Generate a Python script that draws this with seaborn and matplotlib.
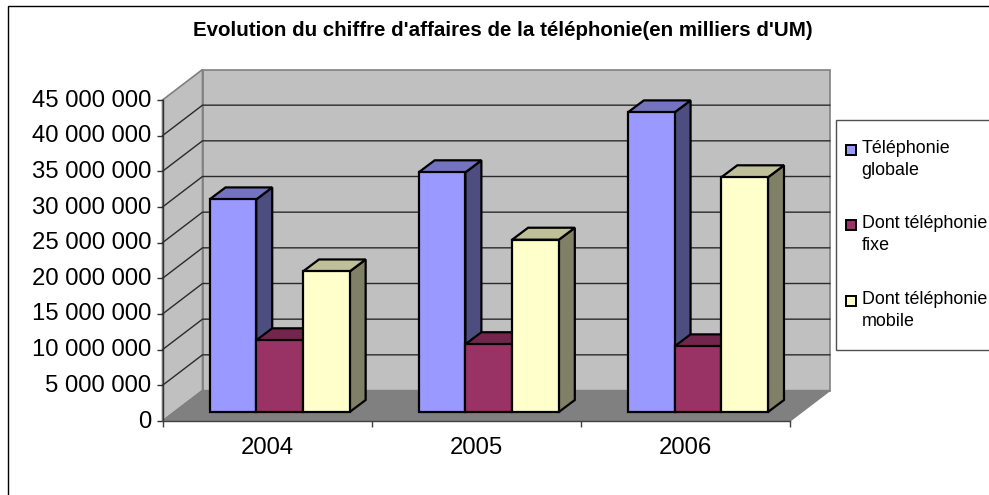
import matplotlib
matplotlib.use("Agg")
import matplotlib.pyplot as plt
import pandas as pd
import seaborn as sns
from matplotlib.colors import to_rgb
from matplotlib.patches import Polygon, Rectangle
from matplotlib.transforms import Affine2D

# Chart values
years = ["2004", "2005", "2006"]
globale = [29800000, 33600000, 42000000]
fixe = [10050000, 9500000, 9200000]
mobile = [19700000, 24150000, 32900000]
series_names = ["Téléphonie\nglobale", "Dont téléphonie\nfixe", "Dont téléphonie\nmobile"]
bar_colors = ["#9999FF", "#993366", "#FFFFCC"]
y_ticks = [0, 5000000, 10000000, 15000000, 20000000, 25000000, 30000000, 35000000, 40000000, 45000000]
y_labels = ["0", "5 000 000", "10 000 000", "15 000 000", "20 000 000", "25 000 000",
            "30 000 000", "35 000 000", "40 000 000", "45 000 000"]
title = "Evolution du chiffre d'affaires de la téléphonie(en milliers d'UM)"

W, H = 989, 495
# offsets of the fake 3D, in pixels
wall_dx, wall_dy = 40, 30.5
base_dx, base_dy = 12.5, 9
depth_dx, depth_dy = 16, 12

sns.set_theme(style="white")
plt.rcParams["font.family"] = ["Liberation Sans", "DejaVu Sans"]

df = pd.DataFrame({
    "year": years * 3,
    "serie": [series_names[0]] * 3 + [series_names[1]] * 3 + [series_names[2]] * 3,
    "value": globale + fixe + mobile,
})

fig = plt.figure(figsize=(W / 100, H / 100), dpi=100)
ax = fig.add_axes([162.5 / W, (H - 421) / H, 627.5 / W, 321 / H])
ax.patch.set_visible(False)

sns.barplot(data=df, x="year", y="value", hue="serie", palette=bar_colors, width=0.67, gap=0,
            saturation=1, edgecolor="black", linewidth=1.6, ax=ax, legend=False)
ax.set_xlim(-0.5, 2.5)
ax.set_ylim(0, 45000000)
ax.set_xlabel("")
ax.set_ylabel("")


def px(x, y):
    return ax.transData.transform((x, y))


def face(points, color, z, edge="black", lw=1.6):
    ax.add_patch(Polygon(points, closed=True, facecolor=color, edgecolor=edge, linewidth=lw,
                         transform=None, clip_on=False, zorder=z, joinstyle="miter"))


def shade(color, k):
    return tuple(c * k for c in to_rgb(color))


# walls and floor
x0, y0 = px(-0.5, 0)
x1, _ = px(2.5, 0)
_, ytop = px(-0.5, 45000000)
wall = "#C0C0C0"
line = "#808080"
face([(x0 + wall_dx, y0 + wall_dy), (x1 + wall_dx, y0 + wall_dy), (x1 + wall_dx, ytop + wall_dy),
      (x0 + wall_dx, ytop + wall_dy)], wall, 0.5, line, 1.2)
face([(x0, y0), (x0 + wall_dx, y0 + wall_dy), (x0 + wall_dx, ytop + wall_dy), (x0, ytop)], wall, 0.5, line, 1.2)
face([(x0, y0), (x1, y0), (x1 + wall_dx, y0 + wall_dy), (x0 + wall_dx, y0 + wall_dy)], "#808080", 0.6, line, 1.0)

# gridlines run along the side wall then the back wall
for v in y_ticks[1:-1]:
    _, yv = px(-0.5, v)
    ax.plot([x0, x0 + wall_dx, x1 + wall_dx], [yv, yv + wall_dy, yv + wall_dy], color="#2a2a2a", lw=1.0,
            transform=None, clip_on=False, zorder=0.8)

# shift the seaborn bars onto the floor and give them a top and a side
bars = sorted([b for c in ax.containers for b in c], key=lambda b: b.get_x())
for i, b in enumerate(bars):
    z = 3 + i * 0.01
    color = b.get_facecolor()
    xa, ya = px(b.get_x(), 0)
    xb, yb = px(b.get_x() + b.get_width(), b.get_height())
    xa, xb = xa + base_dx, xb + base_dx
    ya, yb = ya + base_dy, yb + base_dy
    b.set_transform(ax.transData + Affine2D().translate(base_dx, base_dy))
    b.set_clip_on(False)
    b.set_zorder(z + 0.002)
    face([(xb, ya), (xb + depth_dx, ya + depth_dy), (xb + depth_dx, yb + depth_dy), (xb, yb)], shade(color[:3], 0.5), z)
    face([(xa, yb), (xb, yb), (xb + depth_dx, yb + depth_dy), (xa + depth_dx, yb + depth_dy)], shade(color[:3], 0.75), z + 0.001)

# axes
sns.despine(ax=ax, top=True, right=True)
ax.spines["left"].set_color("#303030")
ax.spines["bottom"].set_color("#404040")
ax.spines["left"].set_linewidth(1.0)
ax.spines["bottom"].set_linewidth(1.0)
ax.spines["left"].set_zorder(1)
ax.spines["bottom"].set_zorder(1)
ax.set_yticks(y_ticks, labels=y_labels)
ax.set_xticks([-0.5, 0.5, 1.5, 2.5], labels=["", "", "", ""])
ax.set_xticks([0, 1, 2], labels=years, minor=True)
ax.tick_params(axis="y", left=True, length=4.5, width=1, color="#303030", labelsize=17.2, pad=3.5, labelcolor="black")
ax.tick_params(axis="x", which="major", bottom=True, length=4.5, width=1, color="#404040")
ax.tick_params(axis="x", which="minor", bottom=False, length=0, labelsize=17.2, pad=11.5, labelcolor="black")
for lab in ax.get_yticklabels():
    lab.set_transform(lab.get_transform() + Affine2D().translate(0, 2))

# legend
handles = [Rectangle((0, 0), 1, 1, facecolor=c, edgecolor="black", linewidth=1.4) for c in bar_colors]
fig.add_artist(Rectangle((836.3 / W, (H - 349.5) / H), 160 / W, 229.5 / H, transform=fig.transFigure,
                         facecolor="white", edgecolor="#505050", linewidth=1.0))
leg = fig.legend(handles, series_names, loc="upper left", bbox_to_anchor=(845.5 / W, (H - 140) / H),
                 frameon=False, fontsize=12.9, handlelength=0.56, handleheight=0.488, handletextpad=0.34,
                 labelspacing=2.04, borderpad=0, borderaxespad=0, labelcolor="black")
for t in leg.get_texts():
    t.set_linespacing(1.38)
for h in leg.legend_handles:
    # marker sits on the first text line, not the middle of the block
    h.set_y(h.get_y() + 7.0)

# outer frame and title
fig.add_artist(Rectangle((7.5 / W, -10 / H), 990 / W, 499 / H, transform=fig.transFigure,
                         facecolor="none", edgecolor="black", linewidth=1.0, zorder=-1))
fig.text(502.5 / W, (H - 31) / H, title, ha="center", va="center", fontsize=14.8, fontweight="bold", color="black")

fig.savefig("out.png", dpi=100)
